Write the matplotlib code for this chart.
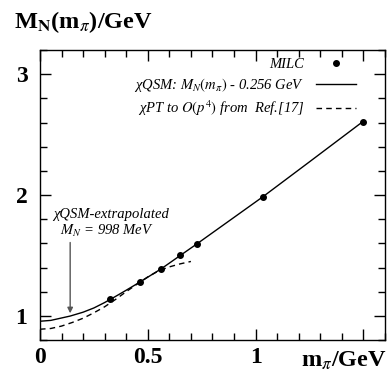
import matplotlib
matplotlib.use("Agg")
import matplotlib.pyplot as plt
from matplotlib.ticker import MultipleLocator, FixedLocator

# MILC lattice points
milc_mpi = [0.326, 0.462, 0.563, 0.651, 0.729, 1.034, 1.496]
milc_mn = [1.139, 1.278, 1.390, 1.500, 1.597, 1.986, 2.606]

# chiQSM curve (shifted by -0.256 GeV)
qsm_mpi = [0.0, 0.05, 0.10, 0.14, 0.20, 0.25, 0.30, 0.35, 0.40, 0.462,
           0.563, 0.651, 0.729, 0.90, 1.034, 1.25, 1.496]
qsm_mn = [0.955, 0.962, 0.982, 0.998, 1.030, 1.065, 1.110, 1.160, 1.212,
          1.278, 1.390, 1.500, 1.597, 1.815, 1.986, 2.275, 2.606]

# chiPT to O(p^4)
cpt_mpi = [0.0, 0.05, 0.10, 0.15, 0.20, 0.25, 0.30, 0.35, 0.40, 0.45,
           0.50, 0.55, 0.60, 0.65, 0.70]
cpt_mn = [0.889, 0.895, 0.915, 0.945, 0.980, 1.025, 1.075, 1.135, 1.200,
          1.262, 1.322, 1.372, 1.405, 1.430, 1.450]

plt.rcParams['font.family'] = ['Liberation Serif', 'DejaVu Serif']
plt.rcParams['mathtext.fontset'] = 'stix'

fig = plt.figure(figsize=(3.92, 3.74), dpi=100)
ax = fig.add_axes([0.102, 0.091, 0.880, 0.775])

ax.plot(milc_mpi, milc_mn, 'o', color='black', markersize=4, label='MILC')
ax.plot(qsm_mpi, qsm_mn, '-', color='black', lw=1.0,
        label=r'χQSM: $M_N(m_\pi)$ - 0.256 GeV')
ax.plot(cpt_mpi, cpt_mn, '--', color='black', lw=1.0, dashes=(4, 3),
        label=r'χPT to $O(p^4)$ from  Ref.[17]')

ax.set_xlim(0, 1.6)
ax.set_ylim(0.8, 3.2)

ax.xaxis.set_major_locator(FixedLocator([0, 0.5, 1.0, 1.5]))
ax.xaxis.set_minor_locator(MultipleLocator(0.1))
ax.yaxis.set_major_locator(FixedLocator([1, 2, 3]))
ax.yaxis.set_minor_locator(MultipleLocator(0.2))
ax.set_xticklabels(['0', '0.5', '1', ''])
ax.set_yticklabels(['1', '2', '3'])
ax.tick_params(which='both', direction='in', top=True, right=True, width=1.0)
ax.tick_params(which='major', length=8, labelsize=17)
ax.tick_params(axis='x', which='major', pad=5)
ax.tick_params(axis='y', which='major', pad=9)
ax.tick_params(which='minor', length=5)
for lab in ax.get_xticklabels() + ax.get_yticklabels():
    lab.set_fontweight('bold')
for sp in ax.spines.values():
    sp.set_linewidth(1.0)

# axis titles
fig.text(0.035, 0.942, r'M$_\mathbf{N}$(m$_\pi$)/GeV', fontsize=17.5,
         fontweight='bold', ha='left', va='center')
ax.text(1.41, -0.035, r'm$_\pi$/GeV', fontsize=17.5, fontweight='bold',
        ha='center', va='top', transform=ax.get_xaxis_transform())

leg = ax.legend(loc='upper right', bbox_to_anchor=(0.955, 1.02), frameon=False,
                markerfirst=False, handlelength=2.75, handletextpad=0.8,
                labelspacing=0.35, prop={'style': 'italic', 'size': 10.5})

# extrapolation annotation
ax.annotate('', xy=(0.14, 0.998), xytext=(0.14, 1.63),
            arrowprops=dict(arrowstyle='-|>', color='#555555', lw=1.0,
                            mutation_scale=8))
ax.text(0.06, 1.84, 'χQSM-extrapolated', style='italic', fontsize=10.5,
        ha='left', va='center')
ax.text(0.093, 1.70, r'$M_N$ = 998 MeV', style='italic', fontsize=10.5,
        ha='left', va='center')

fig.savefig('out.png', dpi=100)
